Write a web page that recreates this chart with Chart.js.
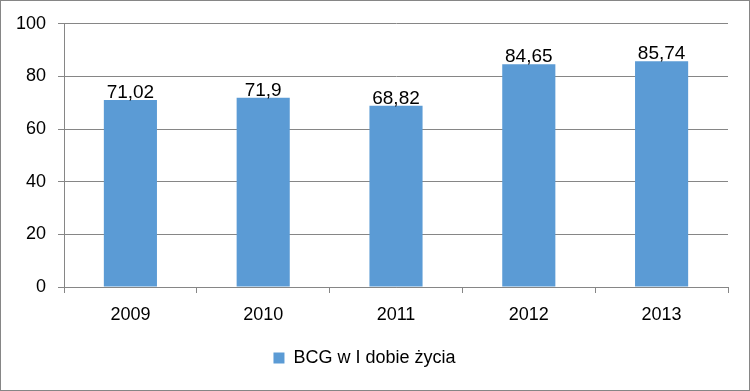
<!DOCTYPE html>
<html>
<head>
<meta charset="utf-8">
<script src="https://cdn.jsdelivr.net/npm/chart.js@4/dist/chart.umd.min.js"></script>
<style>
  html, body { margin: 0; padding: 0; background: #fff; }
  #wrap { width: 748px; height: 389px; border: 1px solid #868686; position: relative; }
  canvas { display: block; }
</style>
</head>
<body>
<div id="wrap"><canvas id="chart" width="748" height="389"></canvas></div>
<script>
const YEARS = [ '2009', '2010', '2011', '2012', '2013' ];
const BCG = [ 71.02, 71.9, 68.82, 84.65, 85.74 ];
const SERIES_LABEL = 'BCG w I dobie życia';

const FONT = 'Liberation Sans, Arial, sans-serif';
const GRID = '#868686';

// etykiety nad słupkami, format z przecinkiem
let valueLabels = {
  id: 'valueLabels',
  afterDatasetsDraw: function(chart) {
    let ctx = chart.ctx;
    let meta = chart.getDatasetMeta(0);
    ctx.save();
    ctx.font = '19px ' + FONT;
    ctx.fillStyle = '#000';
    ctx.textAlign = 'center';
    ctx.textBaseline = 'alphabetic';
    meta.data.forEach(function(bar, i) {
      let text = String(BCG[i]).replace('.', ',');
      ctx.fillText(text, bar.x, bar.y - 2);
    });
    ctx.restore();
  }
};

new Chart(document.getElementById('chart').getContext('2d'), {
  type: 'bar',
  data: {
    labels: YEARS,
    datasets: [{
      label: SERIES_LABEL,
      data: BCG,
      backgroundColor: '#5B9BD5',
      borderWidth: 0,
      categoryPercentage: 0.8,
      barPercentage: 0.5
    }]
  },
  options: {
    responsive: false,
    animation: false,
    layout: { padding: { left: 0, right: 21, top: 22, bottom: 13 } },
    plugins: {
      legend: {
        position: 'bottom',
        labels: {
          font: { family: FONT, size: 18 },
          color: '#000',
          boxWidth: 11,
          boxHeight: 11,
          padding: 9
        }
      },
      tooltip: { enabled: false }
    },
    scales: {
      x: {
        grid: { display: true, drawOnChartArea: false, color: GRID, tickLength: 6, offset: true },
        border: { color: GRID },
        ticks: { font: { family: FONT, size: 18 }, color: '#000', padding: 11 },
        afterFit: function(scale) { scale.height = 53; }
      },
      y: {
        min: 0,
        max: 100,
        ticks: { stepSize: 20, font: { family: FONT, size: 18 }, color: '#000', padding: 12 },
        grid: { color: GRID, tickLength: 6 },
        border: { color: GRID },
        afterFit: function(scale) { scale.width = 63; }
      }
    }
  },
  plugins: [ valueLabels ]
});
</script>
</body>
</html>
